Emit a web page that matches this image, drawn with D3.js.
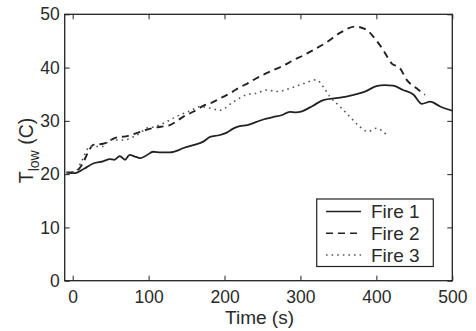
<!DOCTYPE html>
<html><head><meta charset="utf-8">
<script src="https://cdn.jsdelivr.net/npm/d3@7"></script>
<style>body{margin:0;background:#fff}svg{display:block}text{font-family:"Liberation Sans",Arial,sans-serif;fill:#2a2a2a}</style>
</head><body><svg id="c" width="476" height="331"></svg>
<script>
const xTicks = [0, 100, 200, 300, 400, 500];
const yTicks = [0, 10, 20, 30, 40, 50];
const seriesNames = ["Fire 1", "Fire 2", "Fire 3"];
const fire1T = [-8, 3, 15, 27, 40, 49, 55, 62, 69, 75, 82, 89, 97, 106, 116, 128, 141, 146, 160, 172, 181, 193, 203, 212, 220, 230, 242, 252, 264, 276, 286, 294, 302, 316, 330, 350, 370, 385, 400, 411, 422, 435, 449, 460, 471, 484, 500];
const fire1V = [20.3, 20.2, 21.0, 22.0, 22.4, 22.8, 22.7, 23.4, 22.7, 23.6, 23.3, 23.0, 23.5, 24.2, 24.1, 24.1, 24.6, 24.9, 25.5, 26.1, 27.0, 27.3, 27.8, 28.6, 29.0, 29.2, 29.8, 30.3, 30.7, 31.1, 31.7, 31.6, 31.8, 32.8, 33.9, 34.3, 34.9, 35.5, 36.5, 36.7, 36.6, 35.8, 34.9, 33.2, 33.6, 32.7, 31.9];
const fire2T = [-8, 3, 12, 20, 27, 40, 58, 70, 84, 104, 116, 128, 146, 160, 172, 186, 198, 210, 220, 230, 242, 264, 278, 291, 304, 317, 334, 352, 372, 387, 396, 409, 420, 431, 440, 453, 464];
const fire2V = [20.3, 20.4, 21.7, 24.0, 25.5, 25.7, 26.9, 27.1, 27.7, 28.6, 28.9, 29.2, 30.8, 31.8, 32.8, 33.6, 34.5, 35.4, 36.3, 37.0, 38.0, 39.5, 40.4, 41.4, 42.3, 43.3, 44.7, 46.5, 47.7, 47.1, 45.8, 43.3, 40.8, 39.9, 37.7, 36.1, 34.9];
const fire3T = [-8, 3, 12, 23, 40, 49, 67, 71, 80, 89, 97, 108, 119, 130, 141, 155, 168, 180, 194, 212, 229, 242, 256, 269, 286, 304, 321, 330, 339, 352, 365, 378, 389, 400, 414];
const fire3V = [20.3, 20.4, 22.5, 25.2, 25.2, 26.4, 26.4, 26.5, 27.0, 27.7, 28.6, 28.9, 29.5, 30.3, 31.1, 31.9, 32.7, 32.4, 32.0, 33.6, 34.9, 35.2, 35.8, 35.5, 36.1, 37.0, 37.7, 36.4, 34.5, 32.7, 30.8, 28.9, 28.0, 28.6, 27.3];
const dashes = [null, "7,5", "1.6,4"];

const svg = d3.select("#c");
const L = 64.7, R = 452.3, T = 14.3, B = 280.7;
const x = d3.scaleLinear().domain([-10.5, 500]).range([L, R]);
const y = d3.scaleLinear().domain([0, 50]).range([B, T]);

const g = svg.append("g");
const axStyle = sel => { sel.select(".domain").remove(); sel.selectAll("line").attr("stroke", "#222").attr("stroke-width", 1); sel.selectAll("text").style("font-size", "17.5px").attr("fill", "#2a2a2a"); };
g.append("g").attr("transform", `translate(0,${B})`).call(d3.axisBottom(x).tickValues(xTicks).tickSize(-5).tickPadding(10).tickFormat(d3.format("d"))).call(axStyle);
g.append("g").attr("transform", `translate(0,${T})`).call(d3.axisTop(x).tickValues(xTicks).tickSize(-5).tickFormat("")).call(axStyle);
g.append("g").attr("transform", `translate(${L},0)`).call(d3.axisLeft(y).tickValues(yTicks).tickSize(-5).tickPadding(5).tickFormat(d3.format("d"))).call(axStyle);
g.append("g").attr("transform", `translate(${R},0)`).call(d3.axisRight(y).tickValues(yTicks).tickSize(-5).tickFormat("")).call(axStyle);
svg.append("rect").attr("x", L).attr("y", T).attr("width", R - L).attr("height", B - T).attr("fill", "none").attr("stroke", "#222").attr("stroke-width", 1.3);

const series = [[fire1T, fire1V], [fire2T, fire2V], [fire3T, fire3V]];
const line = d3.line().x(d => x(d[0])).y(d => y(d[1])).curve(d3.curveMonotoneX);
series.forEach(([ts, vs], i) => {
  svg.append("path").datum(ts.map((t, k) => [t, vs[k]]))
    .attr("d", line).attr("fill", "none").attr("stroke", i === 2 ? "#555" : "#222")
    .attr("stroke-width", i === 0 ? 1.8 : i === 1 ? 1.9 : 1.6)
    .attr("stroke-dasharray", dashes[i]);
});

const lg = svg.append("g");
lg.append("rect").attr("x", 316.7).attr("y", 199).attr("width", 116.6).attr("height", 67.5).attr("fill", "#fff").attr("stroke", "#222").attr("stroke-width", 1.2);
seriesNames.forEach((n, i) => {
  const yy = 211.5 + i * 21.8;
  lg.append("line").attr("x1", 326).attr("x2", 361).attr("y1", yy).attr("y2", yy)
    .attr("stroke", i === 2 ? "#555" : "#222").attr("stroke-width", 1.5).attr("stroke-dasharray", dashes[i]);
  lg.append("text").attr("x", 371).attr("y", yy + 6.5).style("font-size", "19px").text(n);
});

svg.append("text").attr("x", (L + R) / 2 + 1).attr("y", 324).attr("text-anchor", "middle").style("font-size", "19px").text("Time (s)");
const yl = svg.append("text").attr("transform", `translate(33,${(T + B) / 2 + 3}) rotate(-90)`).attr("text-anchor", "middle").style("font-size", "19.5px");
yl.append("tspan").text("T");
yl.append("tspan").attr("dy", 6).style("font-size", "14px").text("low");
yl.append("tspan").attr("dy", -6).text(" (C)");
</script></body></html>
